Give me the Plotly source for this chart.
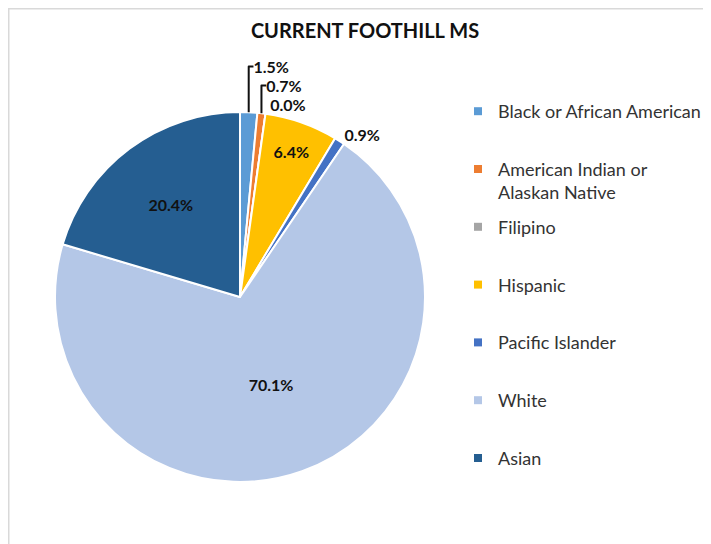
import plotly.graph_objects as go

categories = ["Black or African American", "American Indian or Alaskan Native", "Filipino",
              "Hispanic", "Pacific Islander", "White", "Asian"]
legend_labels = ["Black or African American<br> ", "American Indian or<br>Alaskan Native", "Filipino<br> ",
                 "Hispanic<br> ", "Pacific Islander<br> ", "White<br> ", "Asian<br> "]
values = [1.5, 0.7, 0.0, 6.4, 0.9, 70.1, 20.4]
colors = ["#5B9BD5", "#ED7D31", "#A5A5A5", "#FFC000", "#4472C4", "#B4C7E7", "#255E91"]
text_pos = ["outside", "outside", "outside", "inside", "outside", "inside", "inside"]

# page has an 8px body margin; work in figure coordinates
OFF = 8
W, H = 711 - OFF, 544 - OFF
cx, cy, r = 240 - OFF, 297 - OFF, 185

fig = go.Figure()
fig.add_trace(go.Pie(
    labels=categories, values=values, sort=False, direction="clockwise", rotation=0,
    marker=dict(colors=colors, line=dict(color="white", width=2)),
    texttemplate="%{value:.1f}%", textposition=text_pos,
    insidetextorientation="horizontal",
    textfont=dict(family="Lato", size=16, color="#111111", weight="bold"),
    showlegend=False, hoverinfo="label+percent",
    domain=dict(x=[(cx - r) / W, (cx + r) / W], y=[(H - cy - r) / H, (H - cy + r) / H]),
))
for name, col in zip(legend_labels, colors):
    fig.add_trace(go.Scatter(x=[None], y=[None], mode="markers", name=name,
                             legendgroup=name,
                             marker=dict(symbol="square", size=8, color=col)))

fig.update_layout(
    width=W, height=H, margin=dict(l=0, r=0, t=0, b=0),
    paper_bgcolor="white", plot_bgcolor="white",
    xaxis=dict(visible=False), yaxis=dict(visible=False),
    title=dict(text="<b>CURRENT FOOTHILL MS</b>", x=(365 - OFF) / W, xanchor="center",
               y=1 - (31 - OFF) / H, yanchor="middle",
               font=dict(family="Lato", size=20, color="#111111")),
    legend=dict(x=450 / W, xanchor="left", y=1 - 85 / H, yanchor="top",
                valign="top", tracegroupgap=8,
                font=dict(family="Lato", size=18, color="#333333"),
                bgcolor="rgba(0,0,0,0)"),
    shapes=[dict(type="rect", xref="paper", yref="paper",
                 x0=0.75 / W, x1=1.05, y0=-0.05, y1=1 - 0.75 / H,
                 line=dict(color="#D9D9D9", width=1.5), layer="below")],
)
fig.write_html("out.html")
